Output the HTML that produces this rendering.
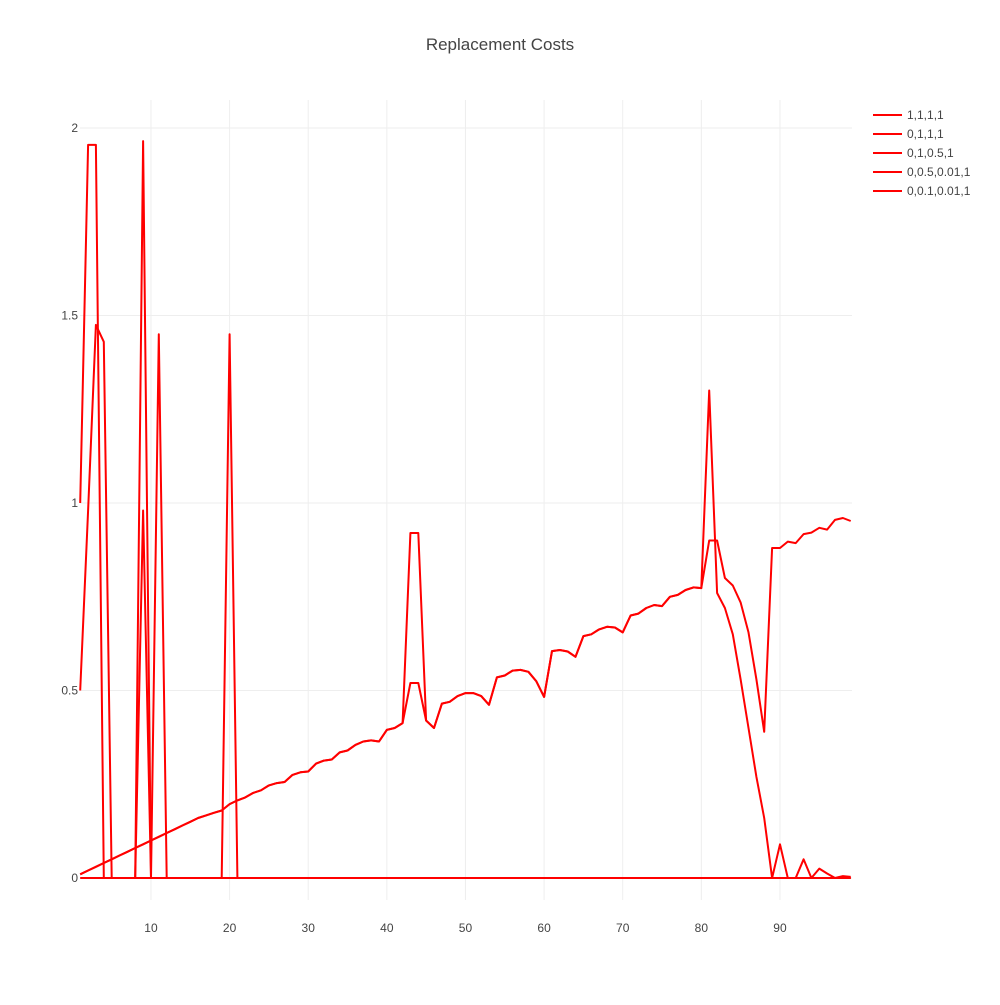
<!DOCTYPE html>
<html><head><meta charset="utf-8"><style>
body{margin:0;background:#fff;font-family:"Liberation Sans",sans-serif}
svg text{font-family:"Liberation Sans",sans-serif}
</style></head><body>
<svg id="chart" width="1000" height="1000" xmlns="http://www.w3.org/2000/svg">
<rect width="1000" height="1000" fill="#fff"/>
<text x="500" y="50" text-anchor="middle" font-size="17" fill="#444">Replacement Costs</text>
<g id="grid"></g><g id="axes"></g><g id="lines"></g><g id="legend"></g>
</svg>
<script>
const xTicks=[10,20,30,40,50,60,70,80,90];
const yTicks=[0,0.5,1,1.5,2];
const yTickLabels=["0","0.5","1","1.5","2"];
const seriesNames=["1,1,1,1","0,1,1,1","0,1,0.5,1","0,0.5,0.01,1","0,0.1,0.01,1"];
const base=[0.01,0.02,0.03,0.04,0.05,0.06,0.07,0.08,0.09,0.10,0.11,0.12,0.13,0.14,0.15,0.16,0.167,0.174,0.18,0.197,0.207,0.215,0.227,0.234,0.247,0.253,0.256,0.275,0.282,0.284,
0.305,0.313,0.316,0.335,0.34,0.355,0.364,0.367,0.364,0.395,0.4,0.413,0.52,0.52,0.42,0.40,0.465,0.47,0.485,0.493,
0.493,0.485,0.462,0.535,0.54,0.553,0.555,0.55,0.525,0.483,0.605,0.608,0.604,0.59,0.645,0.65,0.663,0.67,0.668,0.655,
0.70,0.705,0.72,0.728,0.725,0.75,0.755,0.768,0.775,0.773,0.9,0.9,0.8,0.78,0.735,0.655,0.53,0.39,0.88,0.88,
0.897,0.893,0.917,0.921,0.934,0.929,0.955,0.96,0.952];
const s1=base.slice();
const s2=base.slice(0,42).concat([0.92,0.92],base.slice(44,80),[1.3,0.76,0.72,0.65,0.53,0.4,0.27,0.16,0,0.09,0,0,0.05,0,0.025,0.012,0,0.005,0.003]);
const s3=[1,1.955,1.955,0,0,0,0,0,1.965].concat(new Array(90).fill(0));
const s4=[0.5,0.98,1.475,1.43,0,0,0,0,0.98,0,1.45,0,0,0,0,0,0,0,0,1.45].concat(new Array(79).fill(0));
const s5=new Array(99).fill(0);
const allSeries=[s1,s2,s3,s4,s5];
const X=v=>80.2+(v-1)*7.8625, Y=v=>878-v*375;
const NS="http://www.w3.org/2000/svg";
function mk(t,a,p){const e=document.createElementNS(NS,t);for(const k in a)e.setAttribute(k,a[k]);p.appendChild(e);return e;}
const grid=document.getElementById('grid'),axes=document.getElementById('axes'),lines=document.getElementById('lines'),legend=document.getElementById('legend');
xTicks.forEach(t=>{
 const g=mk('line',{x1:X(t),x2:X(t),y1:100,y2:900,stroke:'#eee','stroke-width':1},grid);
 
 
 const l=mk('text',{x:X(t),y:932,'text-anchor':'middle','font-size':12,fill:'#444'},axes);l.textContent=t;
 
 
});
yTicks.forEach((t,i)=>{
 const g=mk('line',{x1:80,x2:852,y1:Y(t),y2:Y(t),stroke:'#eee','stroke-width':1},grid);
 
 
 const l=mk('text',{x:78,y:Y(t)+4,'text-anchor':'end','font-size':12,fill:'#444'},axes);l.textContent=yTickLabels[i];
 
 
});
allSeries.forEach((s,i)=>{
 const d=s.map((v,j)=>(j?'L':'M')+X(j+1).toFixed(1)+','+Y(v).toFixed(1)).join('');
 const p=mk('path',{d:d,fill:'none',stroke:'#ff0000','stroke-width':2,'stroke-linejoin':'round'},lines);
 
 
 const y=115+i*19;
 const g=mk('g',{},legend);
 
 
 mk('line',{x1:873,x2:902,y1:y,y2:y,stroke:'#ff0000','stroke-width':2},g);
 const t=mk('text',{x:907,y:y+4,'font-size':12,fill:'#444'},g);t.textContent=seriesNames[i];
});
</script>
</body></html>
